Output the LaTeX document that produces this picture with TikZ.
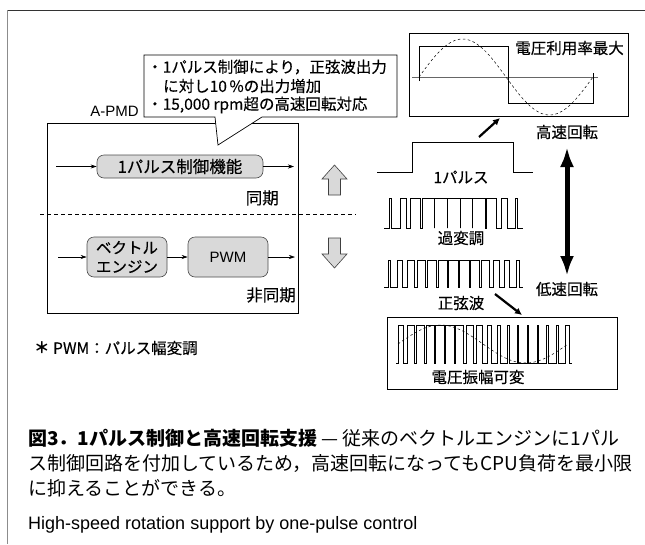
\documentclass[tikz,border=0pt]{standalone}
\usepackage{fontspec}
\usetikzlibrary{arrows.meta}
\newfontfamily\jp{Noto Sans CJK JP}
\newfontfamily\jpm{Noto Sans CJK JP}[FakeBold=0.3]
\newfontfamily\lat{Liberation Sans}
\definecolor{boxgray}{gray}{0.85}
\definecolor{framegray}{gray}{0.2}
\tikzset{
  x=1pt, y=-1pt,
  lbl/.style={inner sep=0pt, font=\jpm\fontsize{15.5}{18}\selectfont},
  biglbl/.style={inner sep=0pt, font=\jpm\fontsize{16.5}{19}\selectfont},
  latlbl/.style={inner sep=0pt, font=\lat\fontsize{15}{17}\selectfont},
  funcbox/.style={draw=black!70, fill=boxgray, rounded corners=7pt, line width=0.6pt, inner sep=0pt},
  sig/.style={-{Stealth[length=6pt,width=4pt]}, line width=0.6pt},
  wave/.style={line width=0.6pt},
  sinedash/.style={line width=0.5pt, dash pattern=on 2.5pt off 2.5pt},
  hollow/.style={draw=black!75, fill=boxgray, line width=0.6pt, line join=miter},
  heavy/.style={line width=2.2pt, -{Latex[length=7pt,width=7pt]}},
  panel/.style={draw=black, line width=0.9pt},
  captxt/.style={anchor=west, inner sep=0pt, font=\jp\fontsize{19}{22}\selectfont},
}
\begin{document}
\begin{tikzpicture}
\useasboundingbox (0,0) rectangle (645,544);
% outer frame edges
\draw[framegray, line width=0.8pt] (7,10) -- (645,10);
\draw[black!45, line width=1pt] (7,10) -- (7,544);

% ---------- A-PMD block ----------
\node[latlbl, anchor=east] (apmdlbl) at (139,111) {A-PMD};
\node[panel, line width=0.8pt, minimum width=251pt, minimum height=190pt, anchor=north west, inner sep=0pt] (apmd) at (47,123) {};

% synchronous row
\node[funcbox, minimum width=166pt, minimum height=23pt] (onep) at (180,166.5) {};
\node[biglbl] (oneptxt) at (onep) {1パルス制御機能};
\coordinate (in1) at (56,166.5);
\coordinate (out1) at (294,166.5);
\draw[sig] (in1) -- (onep.west);
\draw[sig] (onep.east) -- (out1);
\node[biglbl, anchor=east] (sync) at (279,198) {同期};

% dashed divider
\coordinate (dl) at (40,214);
\coordinate (dr) at (356,214);
\draw[line width=0.8pt, dash pattern=on 4pt off 3pt] (dl) -- (dr);

% asynchronous row
\node[funcbox, minimum width=80pt, minimum height=40pt, align=center] (vec) at (127,257) {};
\node[lbl, align=center, font=\jpm\fontsize{15.5}{19}\selectfont] (vectxt) at (vec) {ベクトル\\エンジン};
\node[funcbox, minimum width=80pt, minimum height=40pt] (pwm) at (228,257) {};
\node[latlbl] (pwmtxt) at (pwm) {PWM};
\coordinate (in2) at (58,257);
\coordinate (out2) at (295,257);
\draw[sig] (in2) -- (vec.west);
\draw[sig] (vec.east) -- (pwm.west);
\draw[sig] (pwm.east) -- (out2);
\node[biglbl, anchor=east] (async) at (296,295) {非同期};

% callout with pointer
\coordinate (tip) at (218,145);
\draw[line width=0.7pt, fill=white]
  (144,55) -- (397,55) -- (397,117) -- (262,117) -- (tip) -- (215,117) -- (144,117) -- cycle;
\node[lbl, anchor=west] (c1) at (147,67) {・1パルス制御により，正弦波出力};
\node[lbl, anchor=west] (c2) at (163,86) {に対し10\,\%の出力増加};
\node[lbl, anchor=west] (c3) at (147,105) {・15,000 rpm超の高速回転対応};

% footnote
\node[lbl, anchor=west] (note) at (34,348) {{\jp\bfseries ＊} PWM：パルス幅変調};

% hollow up / down arrows
\draw[hollow] (334.5,165) -- (347,179) -- (340.5,179) -- (340.5,195) -- (328.5,195) -- (328.5,179) -- (322,179) -- cycle;
\draw[hollow] (334.5,268) -- (347,254) -- (340.5,254) -- (340.5,238) -- (328.5,238) -- (328.5,254) -- (322,254) -- cycle;

% ---------- waveforms ----------
% one pulse
\draw[wave] (377,172) -- (412,172) -- (412,142) -- (513,142) -- (513,172) -- (533,172);
\node[lbl] (onepulse) at (461,177) {1パルス};

% overmodulated PWM (half wave)
\begin{scope}[wave]
\pgfmathsetmacro{\xa}{384}\pgfmathsetmacro{\pw}{139/11}
\draw (384,228)
  \foreach \k in {0,...,10}{
    -- ({\xa+(\k+0.5)*\pw-0.5*\pw*min(1,1.2*sin(180*(\k+0.5)/11))},228)
    -- ({\xa+(\k+0.5)*\pw-0.5*\pw*min(1,1.2*sin(180*(\k+0.5)/11))},198)
    -- ({\xa+(\k+0.5)*\pw+0.5*\pw*min(1,1.2*sin(180*(\k+0.5)/11))},198)
    -- ({\xa+(\k+0.5)*\pw+0.5*\pw*min(1,1.2*sin(180*(\k+0.5)/11))},228)
  } -- (523,228);
\end{scope}
\node[lbl] (overmod) at (461,238) {過変調};

% sinusoidal PWM (half wave)
\begin{scope}[wave]
\pgfmathsetmacro{\xa}{384}\pgfmathsetmacro{\pw}{139/13}
\draw (384,287)
  \foreach \k in {0,...,12}{
    -- ({\xa+(\k+0.5)*\pw-0.5*\pw*(0.15+0.8*sin(180*(\k+0.5)/13))},287)
    -- ({\xa+(\k+0.5)*\pw-0.5*\pw*(0.15+0.8*sin(180*(\k+0.5)/13))},260)
    -- ({\xa+(\k+0.5)*\pw+0.5*\pw*(0.15+0.8*sin(180*(\k+0.5)/13))},260)
    -- ({\xa+(\k+0.5)*\pw+0.5*\pw*(0.15+0.8*sin(180*(\k+0.5)/13))},287)
  } -- (523,287);
\end{scope}
\node[lbl] (sinpwm) at (461,303) {正弦波};

% top panel: maximum voltage utilisation
\node[panel, minimum width=219pt, minimum height=83pt, anchor=north west, inner sep=0pt] (hipanel) at (409,33) {};
\draw[black!60, line width=0.8pt] (412,77) -- (598,77);
\draw[wave, line width=0.8pt] (419,81) -- (419,46) -- (508,46) -- (508,103) -- (593,103) -- (593,73);
\draw[sinedash] plot[domain=0:360, samples=73] ({419+\x*0.48333},{77-38*sin(\x)});
\node[lbl, anchor=east] (vmax) at (624,48) {電圧利用率最大};

% bottom panel: variable voltage amplitude
\node[panel, minimum width=230pt, minimum height=72pt, anchor=north west, inner sep=0pt] (lopanel) at (387,317) {};
\begin{scope}[wave]
\pgfmathsetmacro{\xa}{396}\pgfmathsetmacro{\pw}{176/18}
\draw (396,363)
  \foreach \k in {0,...,17}{
    -- ({\xa+(\k+0.5)*\pw-0.5*\pw*(0.5+0.42*sin(360*(\k+0.5)/18))},363)
    -- ({\xa+(\k+0.5)*\pw-0.5*\pw*(0.5+0.42*sin(360*(\k+0.5)/18))},325)
    -- ({\xa+(\k+0.5)*\pw+0.5*\pw*(0.5+0.42*sin(360*(\k+0.5)/18))},325)
    -- ({\xa+(\k+0.5)*\pw+0.5*\pw*(0.5+0.42*sin(360*(\k+0.5)/18))},363)
  } -- (572,363);
\end{scope}
\draw[sinedash] plot[domain=0:360, samples=73] ({398+\x*0.47222},{344-19*sin(\x)});
\node[lbl] (vvar) at (478,377) {電圧振幅可変};

% speed axis
\node[lbl] (hispeed) at (567,132) {高速回転};
\node[lbl] (lospeed) at (567,289) {低速回転};
\draw[line width=5pt, {Latex[length=20pt,width=14pt]}-{Latex[length=20pt,width=14pt]}] (567,147) -- (567,276);

% transitions to panels
\coordinate (upa) at (479,137);
\coordinate (dna) at (495,294);
\draw[heavy] (upa) -- (500,118);
\draw[heavy] (dna) -- (522,315);

% ---------- caption ----------
\node[captxt] (cap1) at (28,438)
  {{\bfseries 図3．1パルス制御と高速回転支援} — 従来のベクトルエンジンに1パル};
\node[captxt] (cap2) at (28,463.5)
  {ス制御回路を付加しているため，高速回転になってもCPU負荷を最小限};
\node[captxt] (cap3) at (28,488)
  {に抑えることができる。};
\node[anchor=west, inner sep=0pt, font=\lat\fontsize{18}{20}\selectfont] (cap4) at (28,525)
  {High-speed rotation support by one-pulse control};
\end{tikzpicture}
\end{document}
